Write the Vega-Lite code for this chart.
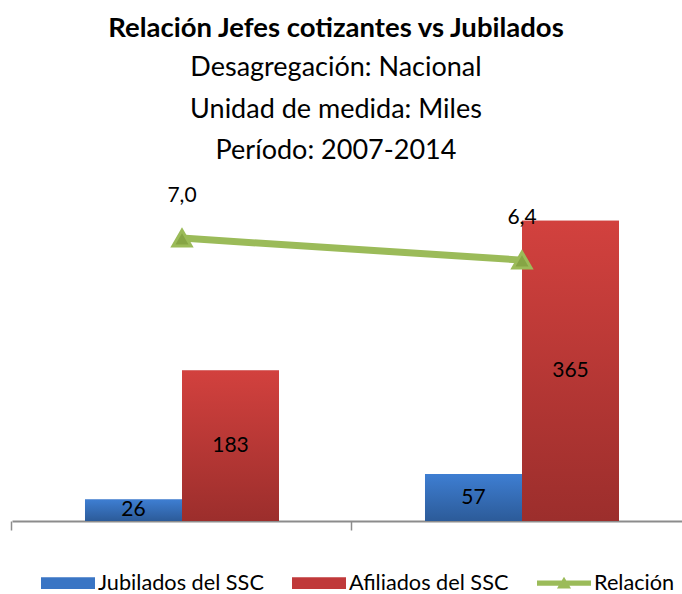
{
  "$schema": "https://vega.github.io/schema/vega-lite/v6.json",
  "width": 670,
  "height": 329,
  "autosize": "none",
  "padding": {"left": 12, "top": 192, "right": 0, "bottom": 73},
  "background": "white",
  "config": {
    "view": {"stroke": null},
    "locale": {"number": {"decimal": ",", "thousands": ".", "grouping": [3], "currency": ["", ""]}}
  },
  "title": {
    "text": "Relación Jefes cotizantes vs Jubilados",
    "subtitle": ["Desagregación: Nacional", "Unidad de medida: Miles", "Período: 2007-2014"],
    "font": "Lato",
    "fontSize": 27.5,
    "fontWeight": "bold",
    "color": "black",
    "subtitleFont": "Lato",
    "subtitleFontSize": 27,
    "subtitleColor": "black",
    "subtitleLineHeight": 41.5,
    "subtitlePadding": 13,
    "anchor": "middle",
    "dx": -11,
    "offset": 21
  },
  "datasets": {
    "bars": [
      {"periodo": "2007", "serie": "Jubilados del SSC", "valor": 26},
      {"periodo": "2007", "serie": "Afiliados del SSC", "valor": 183},
      {"periodo": "2014", "serie": "Jubilados del SSC", "valor": 57},
      {"periodo": "2014", "serie": "Afiliados del SSC", "valor": 365}
    ],
    "rel": [
      {"periodo": "2007", "relacion": 7.0},
      {"periodo": "2014", "relacion": 6.4}
    ]
  },
  "resolve": {"scale": {"y": "independent"}},
  "layer": [
    {
      "data": {"name": "bars"},
      "encoding": {
        "x": {
          "field": "periodo", "type": "nominal",
          "scale": {"range": [0, 680], "paddingInner": 0.4294, "paddingOuter": 0.2147},
          "axis": {"labels": false, "title": null, "bandPosition": -0.3763, "tickSize": 9, "tickColor": "#8C8C8C", "tickWidth": 1.5, "domainColor": "#8C8C8C", "domainWidth": 2, "grid": false}
        },
        "xOffset": {"field": "serie", "type": "nominal", "sort": ["Jubilados del SSC", "Afiliados del SSC"], "scale": {"paddingInner": 0, "paddingOuter": 0}}
      },
      "layer": [
        {
          "mark": {"type": "bar"},
          "encoding": {
            "y": {"field": "valor", "type": "quantitative", "scale": {"domain": [0, 400], "nice": false}, "axis": null},
            "color": {
              "field": "serie", "type": "nominal",
              "scale": {"domain": ["Jubilados del SSC", "Afiliados del SSC", "Relación"], "range": ["#3A75C4", "#C0393A", "#9BBB59"]},
              "legend": {
                "title": null,
                "orient": "none",
                "legendX": 29,
                "legendY": 364,
                "direction": "horizontal",
                "symbolSize": 2916,
                "labelFont": "Lato",
                "labelFontSize": 21.7,
                "labelColor": "black",
                "labelLimit": 400,
                "labelOffset": 3,
                "columnPadding": 28,
                "encode": {
                  "symbols": {
                    "update": {
                      "shape": {"signal": "datum.value === 'Relación' ? 'M-1,-0.1H1V0.1H-1Z M-0.26,0.2L0,-0.24L0.26,0.2Z' : 'M-1,-0.22H1V0.22H-1Z'"},
                      "fill": {"scale": "color", "field": "value"},
                      "fillOpacity": {"value": 1},
                      "strokeWidth": {"value": 0},
                      "opacity": {"value": 1}
                    }
                  }
                }
              }
            }
          }
        },
        {
          "transform": [{"filter": "datum.serie === 'Jubilados del SSC'"}],
          "mark": {"type": "bar", "color": {"gradient": "linear", "x1": 0, "y1": 0, "x2": 0, "y2": 1, "stops": [{"offset": 0, "color": "#3E7ED2"}, {"offset": 1, "color": "#2C5B99"}]}},
          "encoding": {
            "y": {"field": "valor", "type": "quantitative", "scale": {"domain": [0, 400], "nice": false}, "axis": null}
          }
        },
        {
          "transform": [{"filter": "datum.serie === 'Afiliados del SSC'"}],
          "mark": {"type": "bar", "color": {"gradient": "linear", "x1": 0, "y1": 0, "x2": 0, "y2": 1, "stops": [{"offset": 0, "color": "#D2413E"}, {"offset": 1, "color": "#9C2E2C"}]}},
          "encoding": {
            "y": {"field": "valor", "type": "quantitative", "scale": {"domain": [0, 400], "nice": false}, "axis": null}
          }
        },
        {
          "transform": [{"calculate": "datum.valor / 2", "as": "mitad"}],
          "mark": {"type": "text", "font": "Lato", "fontSize": 21, "color": "black", "baseline": "middle"},
          "encoding": {
            "y": {"field": "mitad", "type": "quantitative", "scale": {"domain": [0, 400], "nice": false}, "axis": null},
            "text": {"field": "valor", "type": "quantitative"}
          }
        }
      ]
    },
    {
      "data": {"name": "rel"},
      "encoding": {
        "x": {"field": "periodo", "type": "nominal"},
        "y": {"field": "relacion", "type": "quantitative", "scale": {"domain": [-0.708, 8.256], "nice": false, "zero": false}, "axis": null}
      },
      "layer": [
        {
          "mark": {"type": "line", "strokeWidth": 7},
          "encoding": {"color": {"datum": "Relación"}}
        },
        {
          "mark": {"type": "point", "shape": "triangle-up", "size": 330, "filled": true, "fill": "#86A545", "stroke": "#9BBB59", "strokeWidth": 3, "opacity": 1}
        },
        {
          "mark": {"type": "text", "font": "Lato", "fontSize": 21, "color": "black", "dy": -42, "baseline": "middle"},
          "encoding": {"text": {"field": "relacion", "type": "quantitative", "format": ".1f"}}
        }
      ]
    }
  ]
}
